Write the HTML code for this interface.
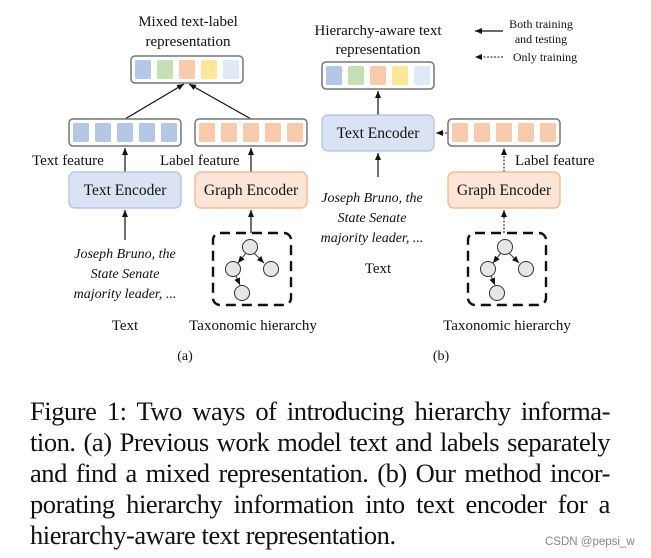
<!DOCTYPE html>
<html><head><meta charset="utf-8"><style>
body{margin:0;width:651px;height:558px;background:#fff;overflow:hidden;position:relative;font-family:"Liberation Serif",serif;}
svg{position:absolute;left:0;top:0}
.cap{position:absolute;left:30px;top:396px;width:580px;font-size:26.5px;letter-spacing:-0.45px;line-height:31px;text-align:justify;color:#111;}
.cap span{display:block;text-align:justify;text-align-last:justify;white-space:nowrap}
.cap span.last{text-align-last:left}
.wm{position:absolute;left:545px;top:536px;font-family:"Liberation Sans",sans-serif;font-size:11.5px;color:#888}
</style></head><body>
<svg width="651" height="400" xmlns="http://www.w3.org/2000/svg" font-family="Liberation Serif, serif" fill="#111">
<defs>
<marker id="ah" markerWidth="8" markerHeight="8" refX="7" refY="4" orient="auto" markerUnits="userSpaceOnUse"><path d="M0,1 L7,4 L0,7 z" fill="#111"/></marker>
</defs>
<!-- (a) -->
<text x="188" y="26" font-size="15" text-anchor="middle">Mixed text-label</text>
<text x="188" y="46" font-size="15" text-anchor="middle">representation</text>
<rect x="131" y="56" width="112" height="27" rx="4" fill="#fff" stroke="#777" stroke-width="1.5"/>
<rect x="135" y="60" width="16" height="19" rx="1.5" fill="#b4c7e7"/>
<rect x="157" y="60" width="16" height="19" rx="1.5" fill="#c5e0b4"/>
<rect x="179" y="60" width="16" height="19" rx="1.5" fill="#f8cbad"/>
<rect x="201" y="60" width="16" height="19" rx="1.5" fill="#ffe699"/>
<rect x="223" y="60" width="16" height="19" rx="1.5" fill="#deebf7"/>
<line x1="125" y1="119" x2="184" y2="84" stroke="#111" stroke-width="1.2" marker-end="url(#ah)"/>
<line x1="251" y1="119" x2="189" y2="84" stroke="#111" stroke-width="1.2" marker-end="url(#ah)"/>
<rect x="69" y="119" width="112" height="27" rx="4" fill="#fff" stroke="#777" stroke-width="1.5"/>
<g fill="#b4c7e7"><rect x="73" y="123" width="16" height="19" rx="1.5"/><rect x="95" y="123" width="16" height="19" rx="1.5"/><rect x="117" y="123" width="16" height="19" rx="1.5"/><rect x="139" y="123" width="16" height="19" rx="1.5"/><rect x="161" y="123" width="16" height="19" rx="1.5"/></g>
<rect x="195" y="119" width="112" height="27" rx="4" fill="#fff" stroke="#777" stroke-width="1.5"/>
<g fill="#f8cbad"><rect x="199" y="123" width="16" height="19" rx="1.5"/><rect x="221" y="123" width="16" height="19" rx="1.5"/><rect x="243" y="123" width="16" height="19" rx="1.5"/><rect x="265" y="123" width="16" height="19" rx="1.5"/><rect x="287" y="123" width="16" height="19" rx="1.5"/></g>
<text x="32" y="165" font-size="15">Text feature</text>
<text x="160" y="165" font-size="15">Label feature</text>
<line x1="125" y1="173" x2="125" y2="148" stroke="#111" stroke-width="1.2" marker-end="url(#ah)"/>
<line x1="251" y1="173" x2="251" y2="148" stroke="#111" stroke-width="1.2" marker-end="url(#ah)"/>
<rect x="69" y="172" width="112" height="36" rx="6" fill="#dae3f3" stroke="#aabfe4" stroke-width="1.2"/>
<text x="125" y="195" font-size="15.5" text-anchor="middle">Text Encoder</text>
<rect x="195" y="172" width="112" height="36" rx="6" fill="#fbe5d6" stroke="#f4b183" stroke-width="1.2"/>
<text x="251" y="195" font-size="15.5" text-anchor="middle">Graph Encoder</text>
<line x1="125" y1="240" x2="125" y2="210" stroke="#111" stroke-width="1.2" marker-end="url(#ah)"/>
<line x1="251" y1="233" x2="251" y2="210" stroke="#111" stroke-width="1.2" marker-end="url(#ah)"/>
<g font-size="14" font-style="italic" text-anchor="middle">
<text x="125" y="258">Joseph Bruno, the</text>
<text x="125" y="278">State Senate</text>
<text x="125" y="298">majority leader, ...</text>
</g>
<rect x="213" y="233" width="78" height="72" rx="7" fill="none" stroke="#111" stroke-width="2.4" stroke-dasharray="10,6"/>
<g stroke="#333" stroke-width="1" fill="#e6e6e6">
<line x1="246" y1="253" x2="238" y2="263" marker-end="url(#ah)"/>
<line x1="254" y1="253" x2="264" y2="263" marker-end="url(#ah)"/>
<line x1="236" y1="276" x2="240" y2="285" marker-end="url(#ah)"/>
<circle cx="250" cy="247" r="7.5"/><circle cx="233" cy="269" r="7.5"/><circle cx="271" cy="269" r="7.5"/><circle cx="242" cy="293" r="7.5"/>
</g>
<text x="125" y="330" font-size="15" text-anchor="middle">Text</text>
<text x="253" y="330" font-size="15" text-anchor="middle">Taxonomic hierarchy</text>
<text x="185" y="360" font-size="14" text-anchor="middle">(a)</text>
<!-- (b) -->
<text x="378" y="35" font-size="15" text-anchor="middle">Hierarchy-aware text</text>
<text x="378" y="54" font-size="15" text-anchor="middle">representation</text>
<rect x="322" y="62" width="112" height="27" rx="4" fill="#fff" stroke="#777" stroke-width="1.5"/>
<rect x="326" y="66" width="16" height="19" rx="1.5" fill="#b4c7e7"/>
<rect x="348" y="66" width="16" height="19" rx="1.5" fill="#c5e0b4"/>
<rect x="370" y="66" width="16" height="19" rx="1.5" fill="#f8cbad"/>
<rect x="392" y="66" width="16" height="19" rx="1.5" fill="#ffe699"/>
<rect x="414" y="66" width="16" height="19" rx="1.5" fill="#deebf7"/>
<line x1="378" y1="115" x2="378" y2="91" stroke="#111" stroke-width="1.2" marker-end="url(#ah)"/>
<rect x="322" y="115" width="112" height="36" rx="6" fill="#dae3f3" stroke="#aabfe4" stroke-width="1.2"/>
<text x="378" y="138" font-size="15.5" text-anchor="middle">Text Encoder</text>
<rect x="448" y="119" width="112" height="27" rx="4" fill="#fff" stroke="#777" stroke-width="1.5"/>
<g fill="#f8cbad"><rect x="452" y="123" width="16" height="19" rx="1.5"/><rect x="474" y="123" width="16" height="19" rx="1.5"/><rect x="496" y="123" width="16" height="19" rx="1.5"/><rect x="518" y="123" width="16" height="19" rx="1.5"/><rect x="540" y="123" width="16" height="19" rx="1.5"/></g>
<line x1="447" y1="133" x2="436" y2="133" stroke="#111" stroke-width="1" stroke-dasharray="2,1.5" marker-end="url(#ah)"/>
<text x="515" y="165" font-size="15">Label feature</text>
<line x1="504" y1="172" x2="504" y2="148" stroke="#111" stroke-width="1" stroke-dasharray="2,1.5" marker-end="url(#ah)"/>
<line x1="378" y1="177" x2="378" y2="153" stroke="#111" stroke-width="1.2" marker-end="url(#ah)"/>
<rect x="448" y="172" width="112" height="36" rx="6" fill="#fbe5d6" stroke="#f4b183" stroke-width="1.2"/>
<text x="504" y="195" font-size="15.5" text-anchor="middle">Graph Encoder</text>
<line x1="504" y1="233" x2="504" y2="210" stroke="#111" stroke-width="1" stroke-dasharray="2,1.5" marker-end="url(#ah)"/>
<g font-size="14" font-style="italic" text-anchor="middle">
<text x="372" y="202">Joseph Bruno, the</text>
<text x="372" y="222">State Senate</text>
<text x="372" y="242">majority leader, ...</text>
</g>
<text x="378" y="273" font-size="15" text-anchor="middle">Text</text>
<rect x="468" y="233" width="78" height="72" rx="7" fill="none" stroke="#111" stroke-width="2.4" stroke-dasharray="10,6"/>
<g stroke="#333" stroke-width="1" fill="#e6e6e6">
<line x1="501" y1="253" x2="493" y2="263" marker-end="url(#ah)"/>
<line x1="509" y1="253" x2="519" y2="263" marker-end="url(#ah)"/>
<line x1="491" y1="276" x2="495" y2="285" marker-end="url(#ah)"/>
<circle cx="505" cy="247" r="7.5"/><circle cx="488" cy="269" r="7.5"/><circle cx="526" cy="269" r="7.5"/><circle cx="497" cy="293" r="7.5"/>
</g>
<text x="507" y="330" font-size="15" text-anchor="middle">Taxonomic hierarchy</text>
<text x="441" y="360" font-size="14" text-anchor="middle">(b)</text>
<!-- legend -->
<line x1="503" y1="31" x2="475" y2="31" stroke="#111" stroke-width="1.2" marker-end="url(#ah)"/>
<text x="541" y="28" font-size="12" text-anchor="middle">Both training</text>
<text x="541" y="43" font-size="12" text-anchor="middle">and testing</text>
<line x1="503" y1="57" x2="475" y2="57" stroke="#111" stroke-width="1" stroke-dasharray="2,1.5" marker-end="url(#ah)"/>
<text x="545" y="61" font-size="12" text-anchor="middle">Only training</text>
</svg>
<div class="cap">
<span>Figure 1: Two ways of introducing hierarchy informa-</span>
<span>tion. (a) Previous work model text and labels separately</span>
<span>and find a mixed representation. (b) Our method incor-</span>
<span>porating hierarchy information into text encoder for a</span>
<span class="last">hierarchy-aware text representation.</span>
</div>
<div class="wm">CSDN @pepsi_w</div>
</body></html>
